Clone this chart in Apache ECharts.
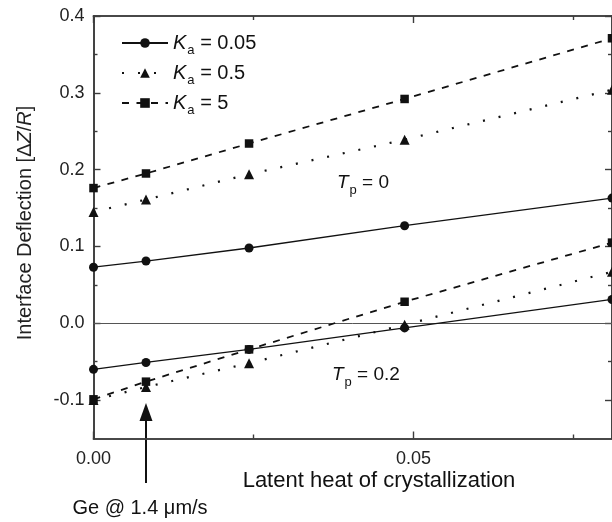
<!DOCTYPE html>
<html>
<head>
<meta charset="utf-8">
<script src="https://cdn.jsdelivr.net/npm/echarts@6/dist/echarts.min.js"></script>
<style>
  html, body { margin: 0; padding: 0; background: #fff; }
  #chart { width: 612px; height: 522px; }
</style>
</head>
<body>
<div id="chart"></div>
<script>
// Latent heat of crystallization (x) for each computed case
const latentHeat = [0, 0.0082, 0.0243, 0.0486, 0.081];

// Interface deflection, Tp = 0
const ka005_tp0 = [0.073, 0.081, 0.098, 0.127, 0.163];
const ka05_tp0  = [0.145, 0.161, 0.194, 0.239, 0.304];
const ka5_tp0   = [0.176, 0.195, 0.234, 0.292, 0.371];

// Interface deflection, Tp = 0.2
const ka005_tp02 = [-0.060, -0.051, -0.034, -0.006, 0.031];
const ka05_tp02  = [-0.100, -0.083, -0.052, -0.002, 0.067];
const ka5_tp02   = [-0.099, -0.076, -0.034, 0.028, 0.105];

const kaLabels = ['0.05', '0.5', '5'];

// Axis ticks
const xMajorTicks = [0, 0.05];
const xMinorTicks = [0.025, 0.075];
const yMajorTicks = [-0.1, 0, 0.1, 0.2, 0.3, 0.4];
const yMinorTicks = [-0.05, 0.05, 0.15, 0.25, 0.35];

const FONT = '"Liberation Sans", Arial, Helvetica, sans-serif';
const INK = '#111';
const AXIS = '#3c3c3c';

const pairs = ys => ys.map((y, i) => [latentHeat[i], y]);
const seriesName = k => 'K_a = ' + k;

const styles = [
  { symbol: 'circle',   symbolSize: 9,  lineStyle: { type: 'solid', width: 1.3 } },
  { symbol: 'triangle', symbolSize: 10, lineStyle: { type: [2, 14], width: 2.2 } },
  { symbol: 'rect',     symbolSize: 8.5, lineStyle: { type: [7, 7.5], width: 1.8 } }
];

const groups = [
  [ka005_tp0, ka05_tp0, ka5_tp0],
  [ka005_tp02, ka05_tp02, ka5_tp02]
];

const series = [];
groups.forEach(group => {
  group.forEach((ys, k) => {
    const st = styles[k];
    series.push({
      type: 'line',
      name: seriesName(kaLabels[k]),
      xAxisIndex: 0,
      yAxisIndex: 0,
      data: pairs(ys),
      symbol: st.symbol,
      symbolSize: st.symbolSize,
      showAllSymbol: true,
      clip: false,
      itemStyle: { color: INK },
      lineStyle: Object.assign({ color: INK }, st.lineStyle),
      z: 3
    });
  });
});

// Horizontal reference line at zero
series[0].markLine = {
  silent: true,
  symbol: 'none',
  label: { show: false },
  lineStyle: { color: '#555', width: 1, type: 'solid' },
  data: [{ yAxis: 0 }],
  z: 1
};

function xAxisDef(position, ticks, len, withLabels) {
  return {
    type: 'value',
    position: position,
    min: 0,
    max: latentHeat[latentHeat.length - 1],
    axisLine: { show: true, onZero: false, lineStyle: { color: AXIS, width: 1.6 } },
    axisTick: { show: true, inside: true, length: len, customValues: ticks,
                lineStyle: { color: AXIS, width: 1.4 } },
    axisLabel: withLabels ? {
      show: true, customValues: ticks, margin: 12,
      formatter: v => v.toFixed(2),
      color: '#222', fontSize: 18, fontFamily: FONT
    } : { show: false },
    splitLine: { show: false }
  };
}

function yAxisDef(position, ticks, len, withLabels) {
  return {
    type: 'value',
    position: position,
    min: -0.15,
    max: 0.4,
    axisLine: { show: true, onZero: false, lineStyle: { color: AXIS, width: 1.6 } },
    axisTick: { show: true, inside: true, length: len, customValues: ticks,
                lineStyle: { color: AXIS, width: 1.4 } },
    axisLabel: withLabels ? {
      show: true, customValues: ticks, margin: 9,
      formatter: v => v.toFixed(1),
      color: '#222', fontSize: 18, fontFamily: FONT
    } : { show: false },
    splitLine: { show: false }
  };
}

const richKa = {
  k: { fontStyle: 'italic', fontSize: 20, fontFamily: FONT, color: INK },
  s: { fontSize: 13, fontFamily: FONT, color: INK, padding: [15, 0, 0, 1] },
  t: { fontSize: 20, fontFamily: FONT, color: INK }
};

const chart = echarts.init(document.getElementById('chart'), null, { renderer: 'canvas' });

chart.setOption({
  animation: false,
  backgroundColor: '#fff',
  grid: { left: 93.5, right: 0, top: 16, bottom: 83.5, containLabel: false },
  xAxis: [
    xAxisDef('bottom', xMajorTicks, 7, true),
    xAxisDef('bottom', xMinorTicks, 4, false),
    xAxisDef('top', xMajorTicks, 7, false),
    xAxisDef('top', xMinorTicks, 4, false)
  ],
  yAxis: [
    yAxisDef('left', yMajorTicks, 7, true),
    yAxisDef('left', yMinorTicks, 4, false),
    yAxisDef('right', yMajorTicks, 7, false),
    yAxisDef('right', yMinorTicks, 4, false)
  ],
  legend: {
    orient: 'vertical',
    left: 116,
    top: 28,
    itemWidth: 46,
    itemHeight: 12,
    itemGap: 6,
    data: kaLabels.map(seriesName),
    formatter: name => '{k|K}{s|a}{t| = ' + name.split('= ')[1] + '}',
    textStyle: { rich: richKa }
  },
  series: series
});

// Annotations placed from data coordinates
const arrowX = chart.convertToPixel({ xAxisIndex: 0 }, latentHeat[1]);

const richTp = {
  k: { fontStyle: 'italic', fontSize: 19, fontFamily: FONT, fill: INK },
  s: { fontSize: 13, fontFamily: FONT, fill: INK, padding: [15, 0, 0, 1] },
  t: { fontSize: 19, fontFamily: FONT, fill: INK }
};

chart.setOption({
  graphic: [
    {
      type: 'text', x: 379, y: 481,
      style: {
        text: 'Latent heat of crystallization',
        fontSize: 22, fontFamily: FONT, fill: INK,
        align: 'center', verticalAlign: 'middle'
      }
    },
    {
      type: 'text', rotation: Math.PI / 2, x: 25, y: 223,
      style: {
        text: '{n|Interface Deflection [Δ}{i|Z}{n|/}{i|R}{n|]}',
        align: 'center', verticalAlign: 'middle',
        rich: {
          n: { fontSize: 20, fontFamily: FONT, fill: '#222' },
          i: { fontSize: 20, fontFamily: FONT, fill: '#222', fontStyle: 'italic' }
        }
      }
    },
    {
      type: 'text', x: 337, y: 183,
      style: { text: '{k|T}{s|p}{t| = 0}', verticalAlign: 'middle', rich: richTp }
    },
    {
      type: 'text', x: 332, y: 375,
      style: { text: '{k|T}{s|p}{t| = 0.2}', verticalAlign: 'middle', rich: richTp }
    },
    {
      type: 'line',
      shape: { x1: arrowX, y1: 418, x2: arrowX, y2: 483 },
      style: { stroke: INK, lineWidth: 2 }
    },
    {
      type: 'polygon',
      shape: { points: [[arrowX - 6.5, 421], [arrowX + 6.5, 421], [arrowX, 403]] },
      style: { fill: INK }
    },
    {
      type: 'text', x: 140, y: 508,
      style: {
        text: 'Ge @ 1.4 μm/s', fontSize: 20, fontFamily: FONT, fill: INK,
        align: 'center', verticalAlign: 'middle'
      }
    }
  ]
});
</script>
</body>
</html>
